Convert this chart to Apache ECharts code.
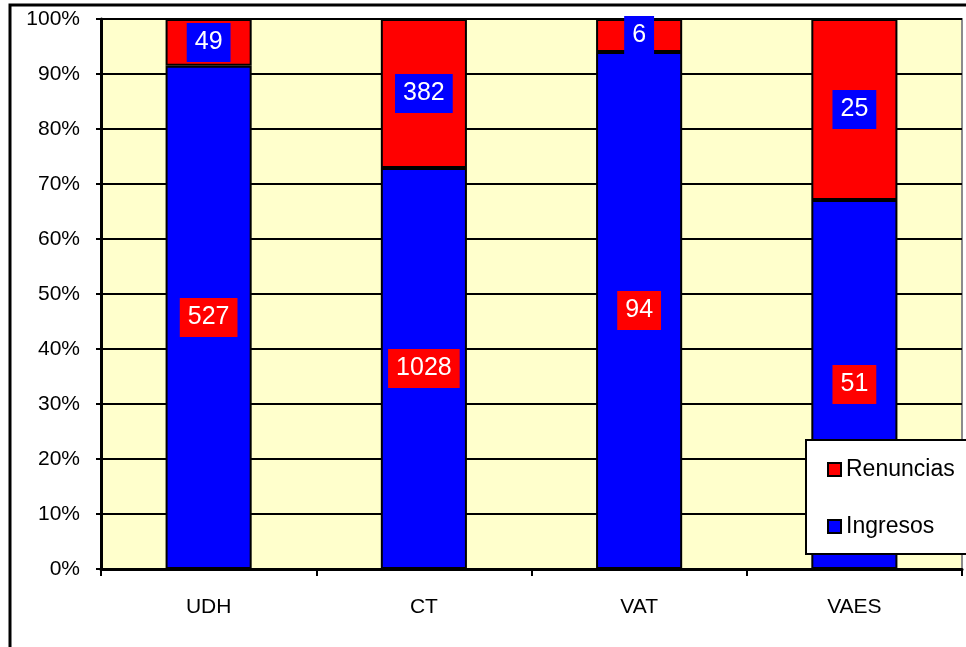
<!DOCTYPE html>
<html>
<head>
<meta charset="utf-8">
<title>Ingresos / Renuncias</title>
<script src="https://cdn.jsdelivr.net/npm/echarts@6/dist/echarts.min.js"></script>
<style>
    html, body {
        margin: 0;
        padding: 0;
        background: #fff;
    }

    #chart {
        width: 966px;
        height: 647px;
    }
</style>
</head>
<body>
<div id="chart"></div>
<script>
// datos
const categorias = ['UDH', 'CT', 'VAT', 'VAES']
const ingresos = [527, 1028, 94, 51]
const renuncias = [49, 382, 6, 25]
const yTicks = [0, 10, 20, 30, 40, 50, 60, 70, 80, 90, 100]

const fuente = 'Liberation Sans, Arial, sans-serif'

// porcentaje de cada parte sobre el total de la columna
function pct(arr) {
    return arr.map((v, i) => v / (ingresos[i] + renuncias[i]) * 100)
}

const chart = echarts.init(document.getElementById('chart'))
chart.setOption({
    animation: false,
    textStyle: { fontFamily: fuente },
    graphic: [
        {
            // marco exterior del grafico
            type: 'rect',
            shape: { x: 10, y: 5, width: 1000, height: 700 },
            style: { fill: 'none', stroke: '#000', lineWidth: 3 },
            z: 100
        }
    ],
    grid: {
        left: 101,
        top: 19,
        right: 4,
        bottom: 78,
        show: true,
        backgroundColor: '#FFFFCC',
        borderColor: '#8c8c8c',
        borderWidth: 2
    },
    legend: {
        orient: 'vertical',
        left: 806,
        top: 440,
        data: ['Renuncias', 'Ingresos'],
        backgroundColor: '#fff',
        borderColor: '#000',
        borderWidth: 2,
        borderRadius: 0,
        padding: [18, 40, 16, 21],
        itemGap: 34,
        itemWidth: 13,
        itemHeight: 13,
        icon: 'rect',
        textStyle: {
            fontSize: 23,
            color: '#000',
            fontFamily: fuente,
            padding: [0, 0, 0, 0]
        }
    },
    xAxis: {
        type: 'category',
        data: categorias,
        axisLine: { lineStyle: { color: '#000', width: 3 } },
        axisTick: { show: true, length: 7, lineStyle: { color: '#000', width: 2 } },
        axisLabel: { margin: 28, fontSize: 21, color: '#000' },
        splitLine: { show: false }
    },
    yAxis: {
        type: 'value',
        min: yTicks[0],
        max: yTicks[yTicks.length - 1],
        interval: 10,
        axisLine: { show: true, lineStyle: { color: '#000', width: 3 } },
        axisTick: { show: true, length: 5, lineStyle: { color: '#000', width: 2 } },
        axisLabel: {
            margin: 21,
            fontSize: 21,
            color: '#000',
            padding: [7, 0, 0, 0],
            formatter: '{value}%'
        },
        splitLine: { lineStyle: { color: '#000', width: 2 } }
    },
    series: [
        {
            name: 'Ingresos',
            type: 'bar',
            stack: 'total',
            barWidth: '40%',
            data: pct(ingresos),
            itemStyle: { color: '#0000FF', borderColor: '#000', borderWidth: 2 },
            label: {
                show: true,
                position: 'inside',
                formatter: p => ingresos[p.dataIndex],
                color: '#fff',
                fontSize: 25,
                backgroundColor: '#FF0000',
                padding: [8, 8, 6, 8]
            }
        },
        {
            name: 'Renuncias',
            type: 'bar',
            stack: 'total',
            barWidth: '40%',
            data: pct(renuncias),
            itemStyle: { color: '#FF0000', borderColor: '#000', borderWidth: 2 },
            label: {
                show: true,
                position: 'inside',
                formatter: p => renuncias[p.dataIndex],
                color: '#fff',
                fontSize: 25,
                backgroundColor: '#0000FF',
                padding: [8, 8, 6, 8]
            }
        }
    ]
})
</script>
</body>
</html>
